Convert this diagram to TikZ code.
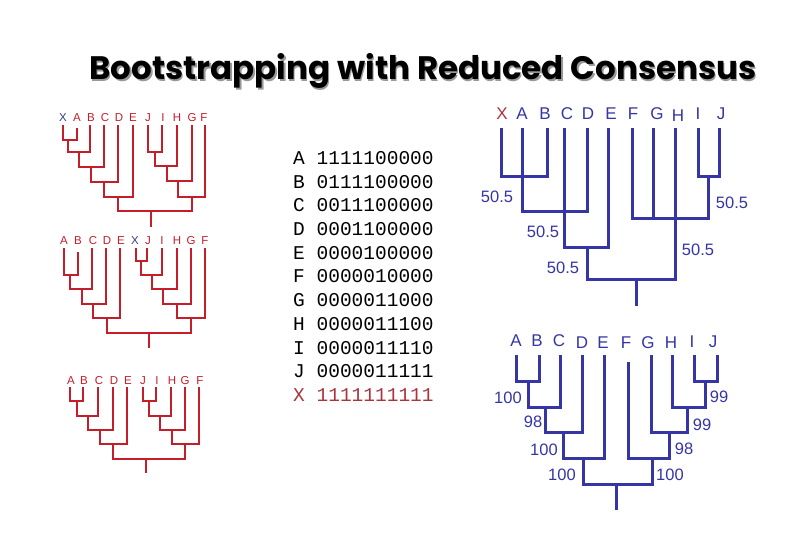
\documentclass[tikz,border=0pt]{standalone}
\usepackage{fontspec}
\setmainfont{Liberation Sans}
\newfontfamily\titlefont{Poppins}
\newfontfamily\tabfont{Liberation Mono}
\definecolor{tred}{HTML}{C41E2A}
\definecolor{tblue}{HTML}{3535A5}
\definecolor{xred}{HTML}{A8343E}
\definecolor{xblue}{HTML}{3A3A8A}
\newcommand{\ttltext}{Bootstrapping with Reduced Consensus}
\tikzset{
  rl/.style={draw=tred,line width=2.2pt},
  bl/.style={draw=tblue,line width=3pt},
  rlab/.style={inner sep=0pt,text=tred,font=\fontsize{11.5}{13}\selectfont},
  blab/.style={inner sep=0pt,text=tblue,font=\fontsize{17}{20}\selectfont},
  bnum/.style={inner sep=0pt,text=tblue,font=\fontsize{16.5}{20}\selectfont},
  tabrow/.style={inner sep=0pt,anchor=west,font=\tabfont\fontsize{19.5}{22}\selectfont},
}
\begin{document}
\begin{tikzpicture}[x=1pt,y=-1pt]
\useasboundingbox (0,0) rectangle (810,540);
% title with shadow
\node[anchor=base,text=black,inner sep=0pt] (title) at (423,80) {\resizebox{667pt}{!}{\titlefont\bfseries\fontsize{34}{40}\selectfont\rlap{\hspace{1.5pt}\raisebox{-1.5pt}{\color{black!40}\ttltext}}\ttltext}};

% ---------- tree 1 ----------
\foreach \n/\x in {A/77,B/91,C/105,D/119,E/133,J/148,I/163,H/177,G/192,F/204}
  \node[rlab] (ta\n) at (\x,118) {\n};
\node[rlab,text=xblue] (taX) at (63,118) {X};
\draw[rl] (63,125)--(63,140)--(77,140)--(77,128);
\draw[rl] (68,140)--(68,152)--(90,152)--(90,125);
\draw[rl] (79,152)--(79,167)--(104,167)--(104,125);
\draw[rl] (91,167)--(91,182)--(118,182)--(118,125);
\draw[rl] (104,182)--(104,197)--(133,197)--(133,125);
\draw[rl] (148,125)--(148,152)--(162,152)--(162,125);
\draw[rl] (155,152)--(155,166)--(177,166)--(177,125);
\draw[rl] (167,166)--(167,181)--(192,181)--(192,125);
\draw[rl] (178,181)--(178,197)--(205,197)--(205,125);
\draw[rl] (118,197)--(118,211)--(192,211)--(192,197);
\draw[rl] (151,211)--(151,227);

% ---------- tree 2 ----------
\foreach \n/\x in {A/64,B/78,C/93,D/107,E/121,J/148,I/162,H/177,G/191,F/205}
  \node[rlab] (tb\n) at (\x,241) {\n};
\node[rlab,text=xblue] (tbX) at (135,241) {X};
\draw[rl] (64,248)--(64,275)--(78,275)--(78,252);
\draw[rl] (70,275)--(70,289)--(92,289)--(92,248);
\draw[rl] (82,289)--(82,304)--(106,304)--(106,248);
\draw[rl] (93,304)--(93,318)--(120,318)--(120,248);
\draw[rl] (136,248)--(136,261)--(147,261)--(147,248);
\draw[rl] (141,261)--(141,275)--(162,275)--(162,248);
\draw[rl] (152,275)--(152,289)--(177,289)--(177,248);
\draw[rl] (163,289)--(163,304)--(191,304)--(191,248);
\draw[rl] (177,304)--(177,318)--(205,318)--(205,248);
\draw[rl] (107,318)--(107,333)--(191,333)--(191,318);
\draw[rl] (149,333)--(149,348);

% ---------- tree 3 ----------
\foreach \n/\x in {A/71,B/84,C/99,D/114,E/128,J/143,I/157,H/172,G/185,F/200}
  \node[rlab] (tc\n) at (\x,381) {\n};
\draw[rl] (70,387)--(70,401)--(83,401)--(83,387);
\draw[rl] (77,401)--(77,416)--(98,416)--(98,387);
\draw[rl] (88,416)--(88,430)--(113,430)--(113,387);
\draw[rl] (100,430)--(100,444)--(127,444)--(127,387);
\draw[rl] (143,387)--(143,401)--(156,401)--(156,387);
\draw[rl] (149,401)--(149,416)--(171,416)--(171,387);
\draw[rl] (160,416)--(160,430)--(185,430)--(185,387);
\draw[rl] (172,430)--(172,444)--(199,444)--(199,387);
\draw[rl] (113,444)--(113,459)--(185,459)--(185,444);
\draw[rl] (146,459)--(146,473);

% ---------- table ----------
\foreach \n/\v/\y in {A/1111100000/158,B/0111100000/181.7,C/0011100000/205.4,D/0001100000/229.1,E/0000100000/252.8,F/0000010000/276.5,G/0000011000/300.2,H/0000011100/323.9,I/0000011110/347.6,J/0000011111/371.3}
  \node[tabrow] (row\n) at (293,\y) {\n\ \v};
\node[tabrow,text=xred] (rowX) at (293,395) {X 1111111111};

% ---------- blue top tree ----------
\node[blab,text=xred] (ubX) at (502,114) {X};
\foreach \n/\x in {A/522,B/545,C/567,D/588,E/611,F/633,G/657,I/698,J/721}
  \node[blab] (ub\n) at (\x,114) {\n};
\node[blab] (ubH) at (678,116) {H};
\draw[bl] (501,128)--(501,176)--(547,176)--(547,128);
\draw[bl] (522,128)--(522,211)--(587,211)--(587,128);
\draw[bl] (564,128)--(564,247)--(608,247)--(608,128);
\draw[bl] (698,128)--(698,176)--(719,176)--(719,128);
\draw[bl] (632,128)--(632,218)--(708,218)--(708,176);
\draw[bl] (653,128)--(653,218);
\draw[bl] (587,247)--(587,279)--(675,279)--(675,128);
\draw[bl] (636,279)--(636,306);
\node[bnum] (u1) at (497,197) {50.5};
\node[bnum] (u2) at (543,232) {50.5};
\node[bnum] (u3) at (563,268) {50.5};
\node[bnum] (u4) at (732,203) {50.5};
\node[bnum] (u5) at (698,250) {50.5};

% ---------- blue bottom tree ----------
\foreach \n/\x/\y in {A/516/341,B/537/341,C/559/341,D/582/343,E/603/343,F/626/343,G/648/343,H/671/343,I/692/342,J/713/342}
  \node[blab] (lb\n) at (\x,\y) {\n};
\draw[bl] (516,355)--(516,381)--(539,381)--(539,355);
\draw[bl] (528,381)--(528,407)--(560,407)--(560,355);
\draw[bl] (545,407)--(545,432)--(582,432)--(582,355);
\draw[bl] (563,432)--(563,458)--(604,458)--(604,355);
\draw[bl] (694,355)--(694,381)--(717,381)--(717,355);
\draw[bl] (705,381)--(705,407)--(672,407)--(672,355);
\draw[bl] (687,407)--(687,432)--(651,432)--(651,355);
\draw[bl] (669,432)--(669,458)--(628,458)--(628,362);
\draw[bl] (583,458)--(583,484)--(652,484)--(652,458);
\draw[bl] (616,484)--(616,510);
\node[bnum] (l1) at (508,398) {100};
\node[bnum] (l2) at (533,422) {98};
\node[bnum] (l3) at (544,450) {100};
\node[bnum] (l4) at (562,475) {100};
\node[bnum] (l5) at (719,397) {99};
\node[bnum] (l6) at (702,425) {99};
\node[bnum] (l7) at (684,449) {98};
\node[bnum] (l8) at (670,475) {100};
\end{tikzpicture}
\end{document}
